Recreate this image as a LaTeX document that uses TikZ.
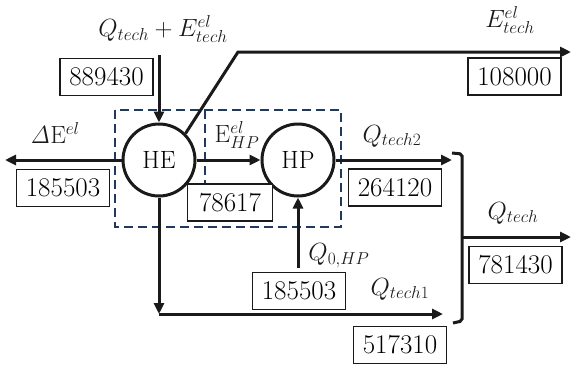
\documentclass[tikz,border=0pt]{standalone}
\usetikzlibrary{arrows.meta}
\definecolor{navy}{HTML}{1F3A5C}
\definecolor{ink}{HTML}{1A1A1A}
\begin{document}
\begin{tikzpicture}[x=1pt,y=-1pt, font=\fontsize{25}{29}\selectfont,
 flow/.style={line width=3pt, draw=ink},
 arr/.style={flow, -{Triangle[length=11pt,width=10pt]}},
 valbox/.style={draw=ink, fill=white, line width=1.4pt, minimum width=93pt, minimum height=37pt, inner sep=0pt, font=\fontsize{27}{31}\selectfont},
 unit/.style={circle, draw=ink, line width=3pt, minimum size=72pt, inner sep=0pt},
 lbl/.style={inner sep=0pt, text=ink, font=\fontsize{23.5}{27}\selectfont},
 dsh/.style={draw=navy, line width=1.7pt, dash pattern=on 9pt off 5pt}]
\useasboundingbox (0,0) rectangle (571,365);
% dashed system boundaries
\draw[dsh] (115,110) rectangle (341,227);
\draw[dsh] (205,110) -- (205,185);
% units
\node[unit] (HE) at (159,160) {HE};
\node[unit] (HP) at (298,160) {HP};
% value boxes
\node[valbox] (b889) at (106.5,77) {889430};
\node[valbox] (b185l) at (63,188) {185503};
\node[valbox, minimum width=85pt] (b786) at (230,202.5) {78617};
\node[valbox] (b264) at (395,187.5) {264120};
\node[valbox] (b108) at (514.5,76.5) {108000};
\node[valbox] (b781) at (515.5,265) {781430};
\node[valbox] (b185b) at (299,291) {185503};
\node[valbox] (b517) at (400,345) {517310};
% labels
\node[lbl] (lQE) at (163,29) {$Q_{tech}+E_{tech}^{el}$};
\node[lbl] (lEt) at (510,20) {$E_{tech}^{el}$};
\node[lbl] (lDE) at (55,133) {$\mathit{\Delta}\mathrm{E}^{el}$};
\node[lbl] (lEHP) at (237,135) {$\mathrm{E}_{HP}^{el}$};
\node[lbl] (lQ2) at (392,136) {$Q_{tech2}$};
\node[lbl] (lQ) at (513,213) {$Q_{tech}$};
\node[lbl] (lQ0) at (339,256) {$Q_{0,HP}$};
\node[lbl] (lQ1) at (400,289) {$Q_{tech1}$};
% coordinates
\coordinate (inTop) at (159,55);
\coordinate (outL) at (5,160);
\coordinate (q2end) at (452,160);
\coordinate (kink) at (238,52);
\coordinate (etend) at (571,52);
\coordinate (corner) at (159,314);
\coordinate (q1end) at (443,314);
\coordinate (q0start) at (298,268);
\coordinate (brTop) at (452,153);
\coordinate (brTopR) at (462,154);
\coordinate (brBotR) at (462,321);
\coordinate (brBot) at (453,323);
\coordinate (brMid) at (462,237);
\coordinate (qend) at (571,237);
% connectors
\draw[arr] (inTop) -- (HE.north);
\draw[arr] (HE.west) -- (outL);
\draw[arr] (HE.east) -- (HP.west);
\draw[arr] (HP.east) -- (q2end);
\draw[arr] (HE.45) -- (kink) -- (etend);
\draw[arr] (HE.south) -- (corner);
\draw[arr] (corner) -- (q1end);
\draw[arr] (q0start) -- (HP.south);
\draw[flow, rounded corners=2pt] (brTop) -- (brTopR) -- (brBotR) -- (brBot);
\draw[arr] (brMid) -- (qend);
\end{tikzpicture}
\end{document}
